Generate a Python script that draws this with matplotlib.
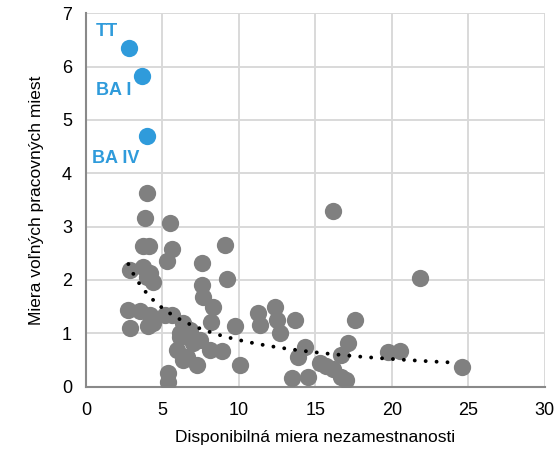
import numpy as np
import matplotlib
matplotlib.use("Agg")
from matplotlib import pyplot as plt

plt.rcParams['font.family'] = ['Liberation Sans', 'DejaVu Sans']

# okresy - disponibilna miera nezamestnanosti vs. miera volnych pracovnych miest
unemp = [3.96, 3.86, 5.49, 3.75, 4.15, 5.6, 5.27, 2.88, 3.7, 4.2, 4.4, 4.0,
         2.77, 2.88, 3.53, 4.18, 4.07, 5.16, 5.6, 6.14, 5.93, 6.36, 5.38, 5.38,
         7.56, 9.08, 9.2, 7.56, 7.67, 8.3, 8.2, 9.74, 10.07, 6.14, 6.58, 7.23,
         8.1, 8.87, 7.45, 6.8, 7.0, 6.36, 11.27, 11.37, 12.35, 12.46, 12.68,
         13.66, 17.58, 14.31, 13.88, 13.44, 14.53, 15.3, 16.16, 16.7, 17.0,
         17.1, 16.7, 15.7, 16.16, 19.76, 20.5, 21.83, 24.6, 4.4]
vacancy = [3.64, 3.16, 3.07, 2.64, 2.64, 2.58, 2.35, 2.19, 2.25, 2.13, 1.96, 2.05,
           1.44, 1.10, 1.41, 1.35, 1.13, 1.35, 1.35, 1.0, 0.69, 0.5, 0.25, 0.09,
           2.31, 2.66, 2.01, 1.91, 1.69, 1.5, 1.22, 1.13, 0.41, 0.94, 0.56, 0.41,
           0.69, 0.66, 0.88, 1.06, 0.81, 1.19, 1.38, 1.16, 1.5, 1.25, 1.0,
           1.25, 1.25, 0.75, 0.56, 0.17, 0.18, 0.44, 0.33, 0.19, 0.12,
           0.82, 0.59, 0.38, 3.30, 0.65, 0.67, 2.03, 0.36, 1.19]

# vybrane okresy (zvyraznene)
hl_names = ["TT", "BA I", "BA IV"]
hl_unemp = [2.81, 3.64, 3.96]
hl_vacancy = [6.35, 5.83, 4.69]

# mocninovy trend y = a * x^b (odcitane z grafu)
trend_a = 4.95
trend_b = -0.753

gray = "#808080"
blue = "#2F9BDB"

fig = plt.figure(figsize=(5.56, 4.51), dpi=100)
ax = fig.add_axes([0.1547, 0.1426, 0.8253, 0.828])

ax.scatter(unemp, vacancy, s=155, color=gray, linewidths=0, zorder=3)
ax.scatter(hl_unemp, hl_vacancy, s=155, color=blue, linewidths=0, zorder=3)

xt = np.linspace(min(unemp), 24.3, 200)
ax.plot(xt, trend_a * xt ** trend_b, color="black", lw=2.8,
        linestyle=(0, (0.01, 2.8)), dash_capstyle="round", zorder=4)

offs = [(-16, 11.5), (-20, -10.8), (-22, -15.5)]
for name, xx, yy, (dx, dy) in zip(hl_names, hl_unemp, hl_vacancy, offs):
    ax.annotate(name, (xx, yy), xytext=(dx, dy), textcoords="offset points",
                color=blue, fontsize=13, fontweight="bold", ha="center", va="center")

ax.set_xlim(0, 30)
ax.set_ylim(0, 7)
ax.set_xticks(range(0, 31, 5))
ax.set_yticks(range(0, 8))
ax.grid(True, color="#D9D9D9", lw=1.4)
ax.set_axisbelow(True)
for s in ["top", "right"]:
    ax.spines[s].set_visible(False)
for s in ["left", "bottom"]:
    ax.spines[s].set_color("#898989")
    ax.spines[s].set_linewidth(1.5)
ax.tick_params(axis="x", length=0, labelsize=13, pad=11)
ax.tick_params(axis="y", length=0, labelsize=13, pad=10)
ax.set_xlabel("Disponibilná miera nezamestnanosti", fontsize=12.5, labelpad=8)
ax.set_ylabel("Miera voľných pracovných miest", fontsize=12.5, labelpad=13)

fig.savefig("out.png", dpi=100)
